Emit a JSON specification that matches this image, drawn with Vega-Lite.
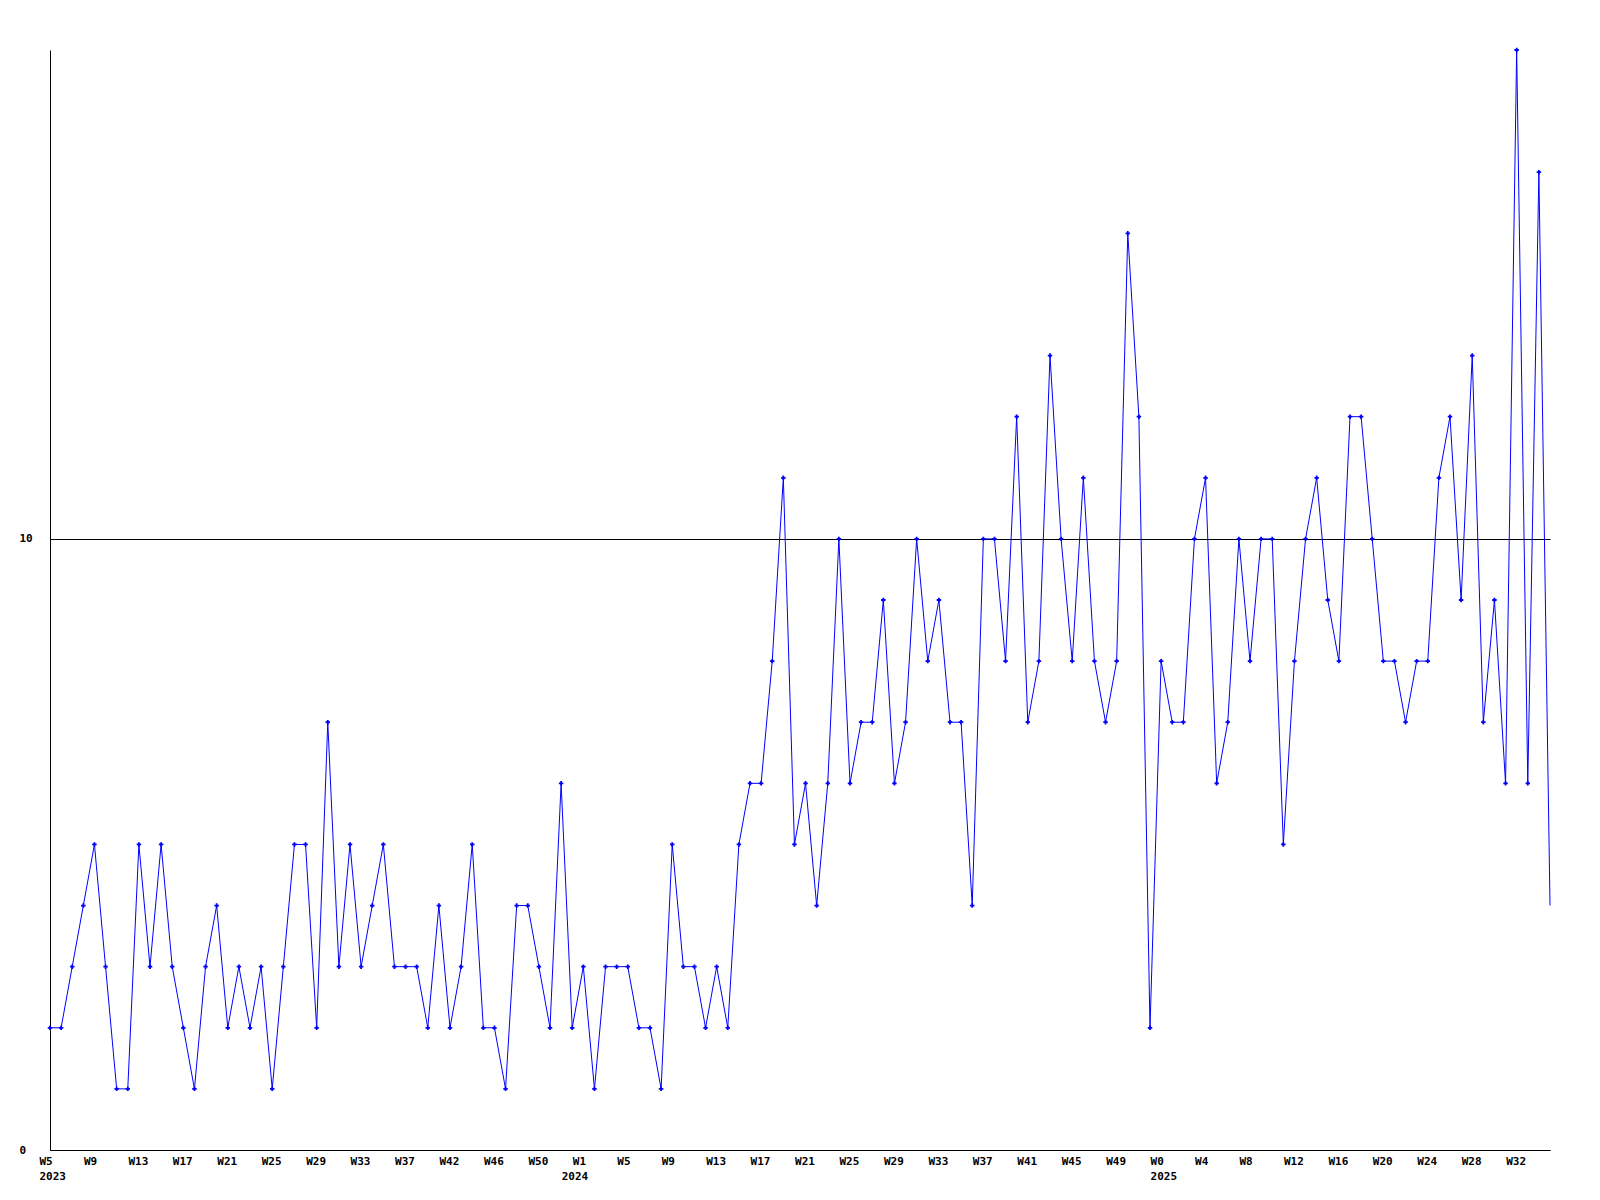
{
  "$schema": "https://vega.github.io/schema/vega-lite/v6.json",
  "width": 1500,
  "height": 1100,
  "autosize": {"type": "none"},
  "padding": {"left": 50, "top": 50, "right": 50, "bottom": 50},
  "background": "white",
  "config": {
    "view": {"stroke": null},
    "axis": {"labelFont": "DejaVu Sans Mono", "labelFontWeight": "bold", "labelFontSize": 11, "labelColor": "black"}
  },
  "data": {"values": [
    {"k":"W5/2023","v":2},{"k":"W6/2023","v":2},{"k":"W7/2023","v":3},{"k":"W8/2023","v":4},{"k":"W9/2023","v":5},
    {"k":"W10/2023","v":3},{"k":"W11/2023","v":1},{"k":"W12/2023","v":1},{"k":"W13/2023","v":5},{"k":"W14/2023","v":3},
    {"k":"W15/2023","v":5},{"k":"W16/2023","v":3},{"k":"W17/2023","v":2},{"k":"W18/2023","v":1},{"k":"W19/2023","v":3},
    {"k":"W20/2023","v":4},{"k":"W21/2023","v":2},{"k":"W22/2023","v":3},{"k":"W23/2023","v":2},{"k":"W24/2023","v":3},
    {"k":"W25/2023","v":1},{"k":"W26/2023","v":3},{"k":"W27/2023","v":5},{"k":"W28/2023","v":5},{"k":"W29/2023","v":2},
    {"k":"W30/2023","v":7},{"k":"W31/2023","v":3},{"k":"W32/2023","v":5},{"k":"W33/2023","v":3},{"k":"W34/2023","v":4},
    {"k":"W35/2023","v":5},{"k":"W36/2023","v":3},{"k":"W37/2023","v":3},{"k":"W38/2023","v":3},{"k":"W39/2023","v":2},
    {"k":"W40/2023","v":4},{"k":"W42/2023","v":2},{"k":"W43/2023","v":3},{"k":"W44/2023","v":5},{"k":"W45/2023","v":2},
    {"k":"W46/2023","v":2},{"k":"W47/2023","v":1},{"k":"W48/2023","v":4},{"k":"W49/2023","v":4},{"k":"W50/2023","v":3},
    {"k":"W51/2023","v":2},{"k":"W52/2023","v":6},{"k":"W0/2024","v":2},
    {"k":"W1/2024","v":3},{"k":"W2/2024","v":1},{"k":"W3/2024","v":3},{"k":"W4/2024","v":3},{"k":"W5/2024","v":3},
    {"k":"W6/2024","v":2},{"k":"W7/2024","v":2},{"k":"W8/2024","v":1},{"k":"W9/2024","v":5},{"k":"W10/2024","v":3},
    {"k":"W11/2024","v":3},{"k":"W12/2024","v":2},{"k":"W13/2024","v":3},{"k":"W14/2024","v":2},{"k":"W15/2024","v":5},
    {"k":"W16/2024","v":6},{"k":"W17/2024","v":6},{"k":"W18/2024","v":8},{"k":"W19/2024","v":11},{"k":"W20/2024","v":5},
    {"k":"W21/2024","v":6},{"k":"W22/2024","v":4},{"k":"W23/2024","v":6},{"k":"W24/2024","v":10},{"k":"W25/2024","v":6},
    {"k":"W26/2024","v":7},{"k":"W27/2024","v":7},{"k":"W28/2024","v":9},{"k":"W29/2024","v":6},{"k":"W30/2024","v":7},
    {"k":"W31/2024","v":10},{"k":"W32/2024","v":8},{"k":"W33/2024","v":9},{"k":"W34/2024","v":7},{"k":"W35/2024","v":7},
    {"k":"W36/2024","v":4},{"k":"W37/2024","v":10},{"k":"W38/2024","v":10},{"k":"W39/2024","v":8},{"k":"W40/2024","v":12},
    {"k":"W41/2024","v":7},{"k":"W42/2024","v":8},{"k":"W43/2024","v":13},{"k":"W44/2024","v":10},{"k":"W45/2024","v":8},
    {"k":"W46/2024","v":11},{"k":"W47/2024","v":8},{"k":"W48/2024","v":7},{"k":"W49/2024","v":8},{"k":"W50/2024","v":15},
    {"k":"W51/2024","v":12},{"k":"W52/2024","v":2},
    {"k":"W0/2025","v":8},{"k":"W1/2025","v":7},{"k":"W2/2025","v":7},{"k":"W3/2025","v":10},{"k":"W4/2025","v":11},
    {"k":"W5/2025","v":6},{"k":"W6/2025","v":7},{"k":"W7/2025","v":10},{"k":"W8/2025","v":8},{"k":"W9/2025","v":10},
    {"k":"W10/2025","v":10},{"k":"W11/2025","v":5},{"k":"W12/2025","v":8},{"k":"W13/2025","v":10},{"k":"W14/2025","v":11},
    {"k":"W15/2025","v":9},{"k":"W16/2025","v":8},{"k":"W17/2025","v":12},{"k":"W18/2025","v":12},{"k":"W19/2025","v":10},
    {"k":"W20/2025","v":8},{"k":"W21/2025","v":8},{"k":"W22/2025","v":7},{"k":"W23/2025","v":8},{"k":"W24/2025","v":8},
    {"k":"W25/2025","v":11},{"k":"W26/2025","v":12},{"k":"W27/2025","v":9},{"k":"W28/2025","v":13},{"k":"W29/2025","v":7},
    {"k":"W30/2025","v":9},{"k":"W31/2025","v":6},{"k":"W32/2025","v":18},{"k":"W33/2025","v":6},{"k":"W34/2025","v":16},
    {"k":"W35/2025","v":4}
  ]},
  "encoding": {
    "x": {
      "field": "k", "type": "ordinal", "sort": null,
      "scale": {"type": "point", "padding": 0},
      "axis": {
        "title": null,
        "values": ["W5/2023","W9/2023","W13/2023","W17/2023","W21/2023","W25/2023","W29/2023","W33/2023","W37/2023","W42/2023","W46/2023","W50/2023","W0/2024","W1/2024","W5/2024","W9/2024","W13/2024","W17/2024","W21/2024","W25/2024","W29/2024","W33/2024","W37/2024","W41/2024","W45/2024","W49/2024","W0/2025","W4/2025","W8/2025","W12/2025","W16/2025","W20/2025","W24/2025","W28/2025","W32/2025"],
        "labelExpr": "datum.value == 'W0/2024' ? ['', '2024'] : (indexof(['W5/2023','W0/2025'], datum.value) >= 0 ? split(datum.value, '/') : split(datum.value, '/')[0])",
        "labelAngle": 0,
        "labelAlign": "left",
        "labelBaseline": "top",
        "labelOffset": -11,
        "labelPadding": 5,
        "labelLineHeight": 15,
        "labelOverlap": false,
        "labelBound": false,
        "ticks": false,
        "tickSize": 0,
        "grid": false,
        "domainColor": "black",
        "domainWidth": 1
      }
    },
    "y": {
      "field": "v", "type": "quantitative",
      "scale": {"domain": [0, 18], "nice": false, "zero": true},
      "axis": {
        "title": null,
        "values": [0, 10],
        "grid": true,
        "gridColor": "black",
        "gridOpacity": 1,
        "gridWidth": 1,
        "ticks": false,
        "tickSize": 0,
        "labelAlign": "left",
        "labelBaseline": "middle",
        "labelPadding": 31,
        "domainColor": "black",
        "domainWidth": 1
      }
    }
  },
  "layer": [
    {"mark": {"type": "line", "color": "#0000ff", "strokeWidth": 1}},
    {
      "transform": [{"filter": "datum.k != 'W35/2025'"}],
      "mark": {"type": "point", "shape": "cross", "filled": true, "size": 20, "color": "#0000ff", "opacity": 1}
    }
  ]
}
